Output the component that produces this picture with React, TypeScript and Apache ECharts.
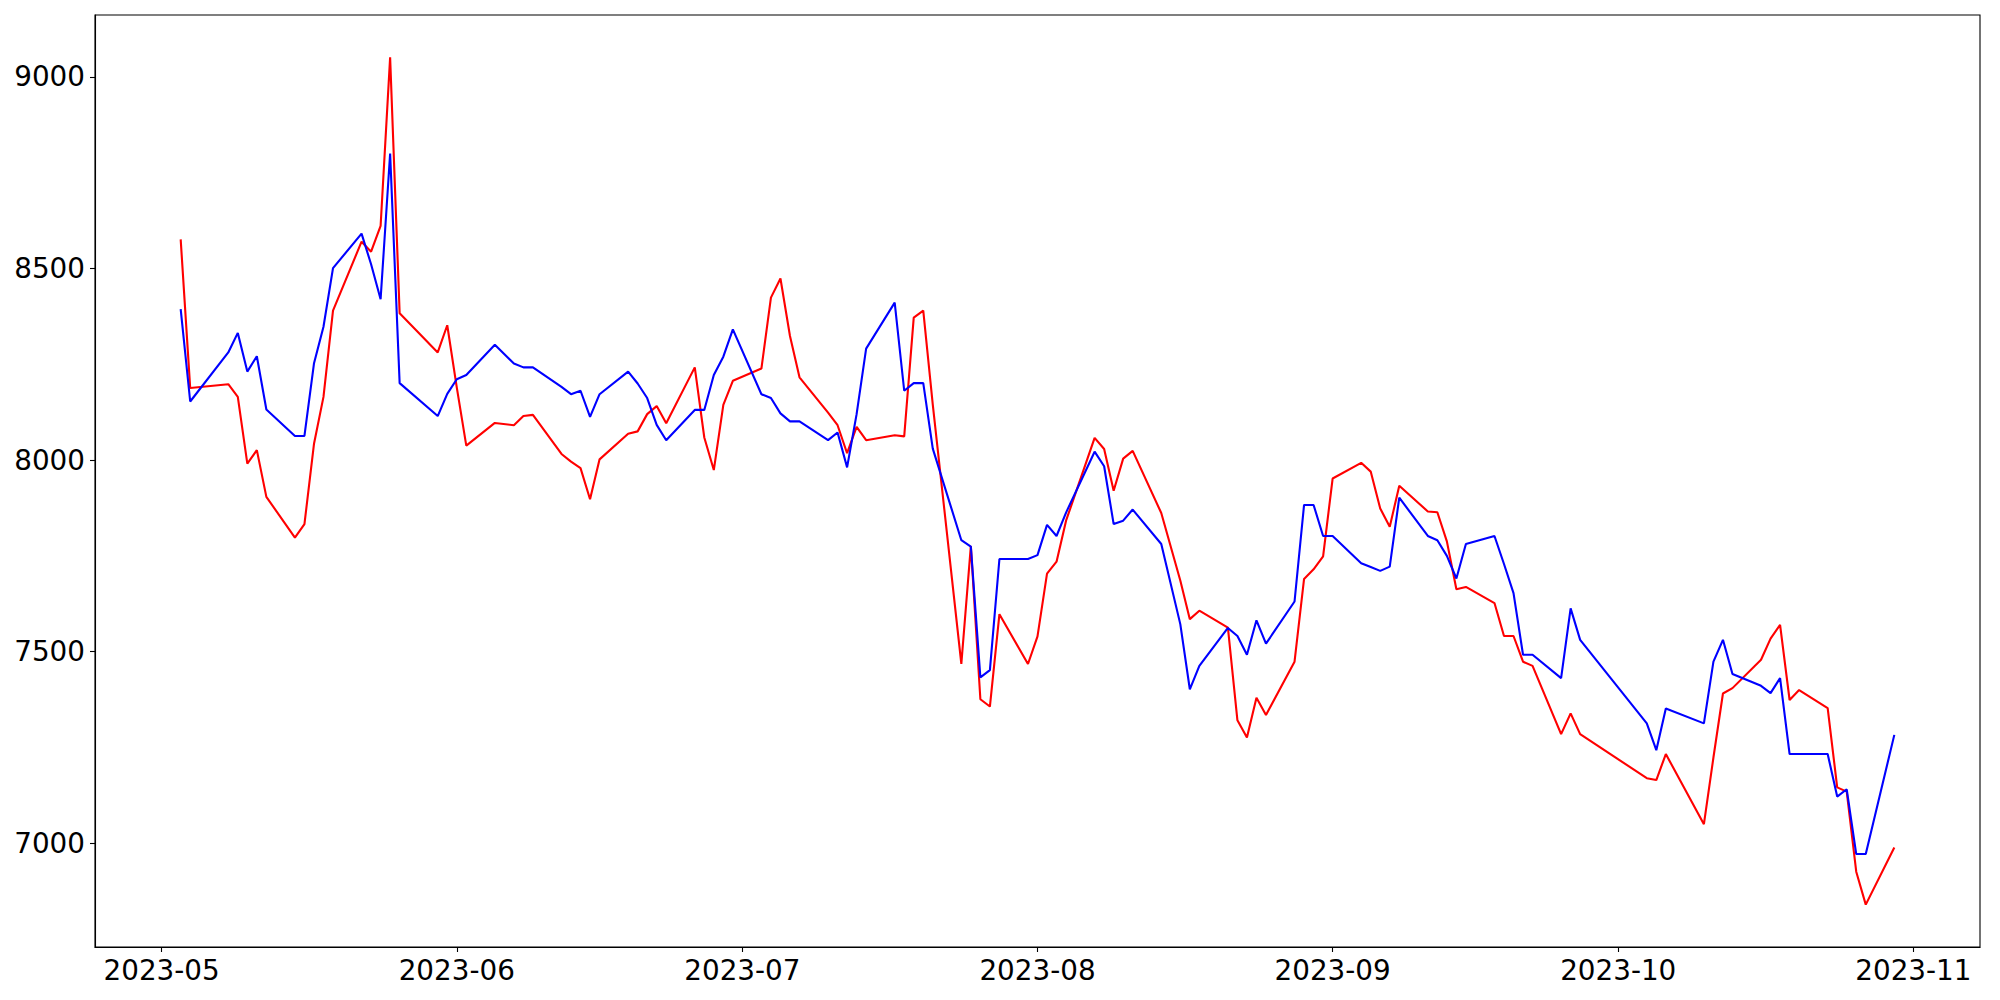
import React, { useEffect, useRef } from 'react';
import * as echarts from 'echarts';

const dates: string[] = [
  '2023-05-03','2023-05-04','2023-05-08','2023-05-09','2023-05-10','2023-05-11','2023-05-12',
  '2023-05-15','2023-05-16','2023-05-17','2023-05-18','2023-05-19','2023-05-22','2023-05-23',
  '2023-05-24','2023-05-25','2023-05-26','2023-05-30','2023-05-31',
  '2023-06-01','2023-06-02','2023-06-05','2023-06-07','2023-06-08','2023-06-09','2023-06-12',
  '2023-06-13','2023-06-14','2023-06-15','2023-06-16','2023-06-19','2023-06-20','2023-06-21',
  '2023-06-22','2023-06-23','2023-06-26','2023-06-27','2023-06-28','2023-06-29','2023-06-30',
  '2023-07-03','2023-07-04','2023-07-05','2023-07-06','2023-07-07','2023-07-10','2023-07-11',
  '2023-07-12','2023-07-13','2023-07-14','2023-07-17','2023-07-18','2023-07-19','2023-07-20',
  '2023-07-21','2023-07-24','2023-07-25','2023-07-26','2023-07-27','2023-07-28','2023-07-31',
  '2023-08-01','2023-08-02','2023-08-03','2023-08-04','2023-08-07','2023-08-08','2023-08-09',
  '2023-08-10','2023-08-11','2023-08-14','2023-08-16','2023-08-17','2023-08-18','2023-08-21',
  '2023-08-22','2023-08-23','2023-08-24','2023-08-25','2023-08-28','2023-08-29','2023-08-30',
  '2023-08-31',
  '2023-09-01','2023-09-04','2023-09-05','2023-09-06','2023-09-07','2023-09-08','2023-09-11',
  '2023-09-12','2023-09-13','2023-09-14','2023-09-15','2023-09-18','2023-09-19','2023-09-20',
  '2023-09-21','2023-09-22','2023-09-25','2023-09-26','2023-09-27',
  '2023-10-04','2023-10-05','2023-10-06','2023-10-10','2023-10-11','2023-10-12','2023-10-13',
  '2023-10-16','2023-10-17','2023-10-18','2023-10-19','2023-10-20','2023-10-23','2023-10-24',
  '2023-10-25','2023-10-26','2023-10-27','2023-10-30',
];

const redValues: number[] = [
  8576, 8188, 8198, 8165, 7991, 8026, 7904,
  7798, 7833, 8042, 8165, 8390, 8570, 8544,
  8611, 9051, 8383, 8281, 8352,
  8190, 8038, 8097, 8091, 8115, 8118, 8016,
  7996, 7979, 7898, 8002, 8069, 8075, 8120,
  8141, 8096, 8242, 8059, 7974, 8144, 8207,
  8239, 8424, 8474, 8324, 8216, 8124, 8091,
  8018, 8087, 8052, 8065, 8062, 8372, 8390,
  8145, 7468, 7776, 7376, 7357, 7598, 7468,
  7540, 7704, 7735, 7842, 8058, 8029, 7920,
  8004, 8024, 7862, 7686, 7585, 7607, 7563,
  7321, 7276, 7380, 7335, 7474, 7690, 7715,
  7749,
  7952, 7993, 7970, 7874, 7826, 7933, 7866,
  7864, 7788, 7663, 7669, 7627, 7541, 7541,
  7474, 7463, 7285, 7339, 7285,
  7170, 7165, 7233, 7050, 7224, 7391, 7405,
  7479, 7534, 7570, 7374, 7400, 7353, 7146,
  7135, 6926, 6840, 6989,
];

const blueValues: number[] = [
  8394, 8153, 8281, 8332, 8231, 8271, 8132,
  8063, 8063, 8252, 8348, 8501, 8591, 8511,
  8420, 8800, 8201, 8115, 8173,
  8211, 8222, 8301, 8252, 8242, 8242, 8191,
  8172, 8181, 8113, 8172, 8231, 8200, 8162,
  8092, 8052, 8131, 8131, 8222, 8270, 8341,
  8172, 8162, 8122, 8101, 8101, 8052, 8072,
  7981, 8120, 8291, 8411, 8181, 8201, 8201,
  8030, 7791, 7774, 7433, 7452, 7742, 7742,
  7752, 7831, 7802, 7863, 8022, 7984, 7833,
  7842, 7871, 7781, 7572, 7402, 7463, 7562,
  7541, 7492, 7582, 7521, 7631, 7883, 7883,
  7802,
  7802, 7731, 7721, 7711, 7722, 7902, 7802,
  7791, 7750, 7691, 7781, 7802, 7729, 7653,
  7492, 7492, 7431, 7613, 7531,
  7313, 7243, 7352, 7313, 7474, 7531, 7442,
  7411, 7392, 7431, 7233, 7233, 7233, 7122,
  7141, 6972, 6972, 7283,
];

const monthTicks: string[] = [
  '2023-05-01', '2023-06-01', '2023-07-01', '2023-08-01',
  '2023-09-01', '2023-10-01', '2023-11-01',
];
const yTicks: number[] = [7000, 7500, 8000, 8500, 9000];

const toTs = (s: string) => {
  const [y, m, d] = s.split('-').map(Number);
  return new Date(y, m - 1, d).getTime();
};

export default function App() {
  const ref = useRef<HTMLDivElement>(null);
  useEffect(() => {
    if (!ref.current) return;
    const chart = echarts.init(ref.current, null, { renderer: 'svg' });
    const xs = dates.map(toTs);
    const x0 = xs[0];
    const x1 = xs[xs.length - 1];
    const xPad = (x1 - x0) * 0.05;
    const all = redValues.concat(blueValues);
    const yMinD = Math.min(...all);
    const yMaxD = Math.max(...all);
    const yPad = (yMaxD - yMinD) * 0.05;
    const font = 'DejaVu Sans';
    const fmtMonth = (v: number) => {
      const d = new Date(v);
      const m = d.getMonth() + 1;
      return `${d.getFullYear()}-${m < 10 ? '0' + m : m}`;
    };
    const xTickVals = monthTicks.map(toTs);
    chart.setOption({
      animation: false,
      backgroundColor: '#ffffff',
      grid: {
        left: 95,
        right: 20,
        top: 15,
        bottom: 53,
        show: true,
        borderColor: '#000000',
        borderWidth: 1.1,
        backgroundColor: 'transparent',
      },
      xAxis: {
        type: 'value',
        min: x0 - xPad,
        max: x1 + xPad,
        axisLine: { show: true, lineStyle: { color: '#000', width: 1.1 } },
        axisTick: {
          show: true,
          inside: false,
          length: 5,
          lineStyle: { color: '#000', width: 1.1 },
          customValues: xTickVals,
        },
        axisLabel: {
          show: true,
          margin: 9,
          color: '#000',
          fontFamily: font,
          fontSize: 27.8,
          customValues: xTickVals,
          formatter: (v: number) => fmtMonth(v),
          hideOverlap: false,
        },
        splitLine: { show: false },
      },
      yAxis: {
        type: 'value',
        min: yMinD - yPad,
        max: yMaxD + yPad,
        axisLine: { show: true, lineStyle: { color: '#000', width: 1.1 } },
        axisTick: {
          show: true,
          inside: false,
          length: 5,
          lineStyle: { color: '#000', width: 1.1 },
          customValues: yTicks,
        },
        axisLabel: {
          show: true,
          margin: 10,
          color: '#000',
          fontFamily: font,
          fontSize: 27.8,
          customValues: yTicks,
          formatter: (v: number) => String(v),
        },
        splitLine: { show: false },
      },
      series: [
        {
          name: 'red',
          type: 'line',
          data: xs.map((x, i) => [x, redValues[i]]),
          showSymbol: false,
          symbol: 'none',
          lineStyle: { color: '#ff0000', width: 2.1 },
          itemStyle: { color: '#ff0000' },
        },
        {
          name: 'blue',
          type: 'line',
          data: xs.map((x, i) => [x, blueValues[i]]),
          showSymbol: false,
          symbol: 'none',
          lineStyle: { color: '#0000ff', width: 2.1 },
          itemStyle: { color: '#0000ff' },
        },
      ],
    });
    return () => chart.dispose();
  }, []);
  return (
    <div
      ref={ref}
      style={{ position: 'absolute', left: 0, top: 0, width: 2000, height: 1000, background: '#fff' }}
    />
  );
}
